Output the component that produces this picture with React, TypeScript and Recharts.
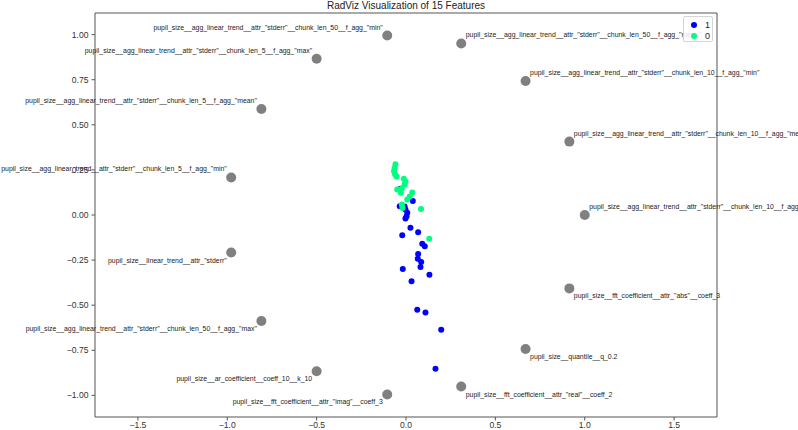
import { Legend, ReferenceArea, Scatter, ScatterChart, XAxis, YAxis } from 'recharts';

const P = 'pupil_size__agg_linear_trend__attr_"stderr"__chunk_len_';

const anchorNames = [
  P + '10__f_agg_"max"',
  P + '10__f_agg_"mean"',
  P + '10__f_agg_"min"',
  P + '50__f_agg_"mean"',
  P + '50__f_agg_"min"',
  P + '5__f_agg_"max"',
  P + '5__f_agg_"mean"',
  P + '5__f_agg_"min"',
  'pupil_size__linear_trend__attr_"stderr"',
  P + '50__f_agg_"max"',
  'pupil_size__ar_coefficient__coeff_10__k_10',
  'pupil_size__fft_coefficient__attr_"imag"__coeff_3',
  'pupil_size__fft_coefficient__attr_"real"__coeff_2',
  'pupil_size__quantile__q_0.2',
  'pupil_size__fft_coefficient__attr_"abs"__coeff_3',
];
const anchorX = [1.0, 0.914, 0.669, 0.309, -0.105, -0.5, -0.809, -0.978, -0.978, -0.809, -0.5, -0.105, 0.309, 0.669, 0.914];
const anchorY = [0.0, 0.407, 0.743, 0.951, 0.995, 0.866, 0.588, 0.208, -0.208, -0.588, -0.866, -0.995, -0.951, -0.743, -0.407];

// class "1"
const blueX = [-0.031, 0.038, -0.035, -0.008, -0.003, 0.007, 0.003, -0.003, 0.025, 0.068, -0.021, 0.091, 0.105, 0.068, 0.066, 0.085, 0.081, -0.018, 0.131, 0.031, 0.063, 0.109, 0.197, 0.165];
const blueY = [0.146, 0.077, 0.049, 0.047, 0.031, 0.012, -0.007, -0.019, -0.071, -0.096, -0.112, -0.16, -0.173, -0.216, -0.243, -0.26, -0.289, -0.299, -0.331, -0.368, -0.525, -0.54, -0.636, -0.853];

// class "0"
const greenX = [-0.059, -0.064, -0.067, -0.061, -0.053, -0.012, -0.003, -0.008, -0.049, -0.023, -0.029, 0.035, 0.021, 0.007, -0.023, -0.02, 0.084, 0.13];
const greenY = [0.281, 0.261, 0.242, 0.225, 0.214, 0.201, 0.186, 0.169, 0.142, 0.147, 0.123, 0.125, 0.103, 0.086, 0.058, 0.039, 0.033, -0.132];

const xTicks = [-1.5, -1, -0.5, 0, 0.5, 1, 1.5];
const yTicks = [-1, -0.75, -0.5, -0.25, 0, 0.25, 0.5, 0.75, 1];

const anchors = anchorNames.map((name, i) => ({ name, x: anchorX[i], y: anchorY[i] }));
const blue = blueX.map((x, i) => ({ x, y: blueY[i] }));
const green = greenX.map((x, i) => ({ x, y: greenY[i] }));

const FONT = '"Liberation Sans", Arial, sans-serif';
const minus = (s: string) => s.replace('-', '\u2212');

function Dot(color: string) {
  return (props: any) => <circle cx={props.cx} cy={props.cy} r={3} fill={color} />;
}

function AnchorShape(props: any) {
  const { cx, cy, payload } = props;
  const left = payload.x < 0;
  const below = payload.y < 0;
  return (
    <g>
      <circle cx={cx} cy={cy} r={5} fill="#808080" />
      <text
        x={left ? cx - 4.5 : cx + 4.5}
        y={below ? cy + 10 : cy - 6}
        textAnchor={left ? 'end' : 'start'}
        fontSize={6.9}
        fontFamily={FONT}
        fill="#222"
      >
        {payload.name}
      </text>
    </g>
  );
}

function LegendBox() {
  const row = (c: string, label: string) => (
    <div style={{ display: 'flex', alignItems: 'center', height: 11 }}>
      <span style={{ width: 6, height: 6, borderRadius: 3, background: c, marginLeft: 7, marginRight: 8 }} />
      <span style={{ fontSize: 9, color: '#222' }}>{label}</span>
    </div>
  );
  return (
    <div
      style={{
        width: 30,
        height: 26,
        boxSizing: 'border-box',
        paddingTop: 2,
        background: 'rgba(255,255,255,0.85)',
        border: '1px solid #d5d5d5',
        borderRadius: 2,
        fontFamily: FONT,
      }}
    >
      {row('#0000ff', '1')}
      {row('#00ff80', '0')}
    </div>
  );
}

export default function App() {
  return (
    <div style={{ position: 'absolute', left: 0, top: 0, width: 798, height: 430, background: '#fff', overflow: 'hidden' }}>
      <div
        style={{
          position: 'absolute',
          left: 95,
          width: 622,
          top: 0,
          lineHeight: '12px',
          textAlign: 'center',
          fontFamily: FONT,
          fontSize: 10,
          color: '#222',
        }}
      >
        RadViz Visualization of 15 Features
      </div>
      <ScatterChart width={798} height={430} margin={{ top: 13, right: 81, bottom: 0, left: 0 }}>
        <XAxis
          type="number"
          dataKey="x"
          domain={[-1.74, 1.74]}
          ticks={xTicks}
          height={13}
          axisLine={false}
          tickSize={3.5}
          tickMargin={1}
          tickLine={{ stroke: '#555' }}
          tick={{ fontSize: 8.6, fill: '#333', fontFamily: FONT }}
          tickFormatter={(v: number) => minus(v.toFixed(1))}
        />
        <YAxis
          type="number"
          dataKey="y"
          domain={[-1.12, 1.12]}
          ticks={yTicks}
          width={95}
          axisLine={false}
          tickSize={3.5}
          tickMargin={3}
          tickLine={{ stroke: '#555' }}
          tick={{ fontSize: 8.6, fill: '#333', fontFamily: FONT }}
          tickFormatter={(v: number) => minus(v.toFixed(2))}
        />
        <ReferenceArea x1={-1.74} x2={1.74} y1={-1.12} y2={1.12} fill="none" stroke="#555" strokeWidth={1} ifOverflow="visible" />
        <Scatter name="1" data={blue} fill="#0000ff" shape={Dot('#0000ff')} isAnimationActive={false} />
        <Scatter name="0" data={green} fill="#00ff80" shape={Dot('#00ff80')} isAnimationActive={false} />
        <Scatter name="anchors" data={anchors} fill="#808080" shape={AnchorShape} isAnimationActive={false} legendType="none" />
        <Legend
          layout="vertical"
          align="center"
          verticalAlign="middle"
          content={() => <LegendBox />}
          wrapperStyle={{ top: 16, left: 683, width: 30, height: 26 }}
        />
      </ScatterChart>
    </div>
  );
}
